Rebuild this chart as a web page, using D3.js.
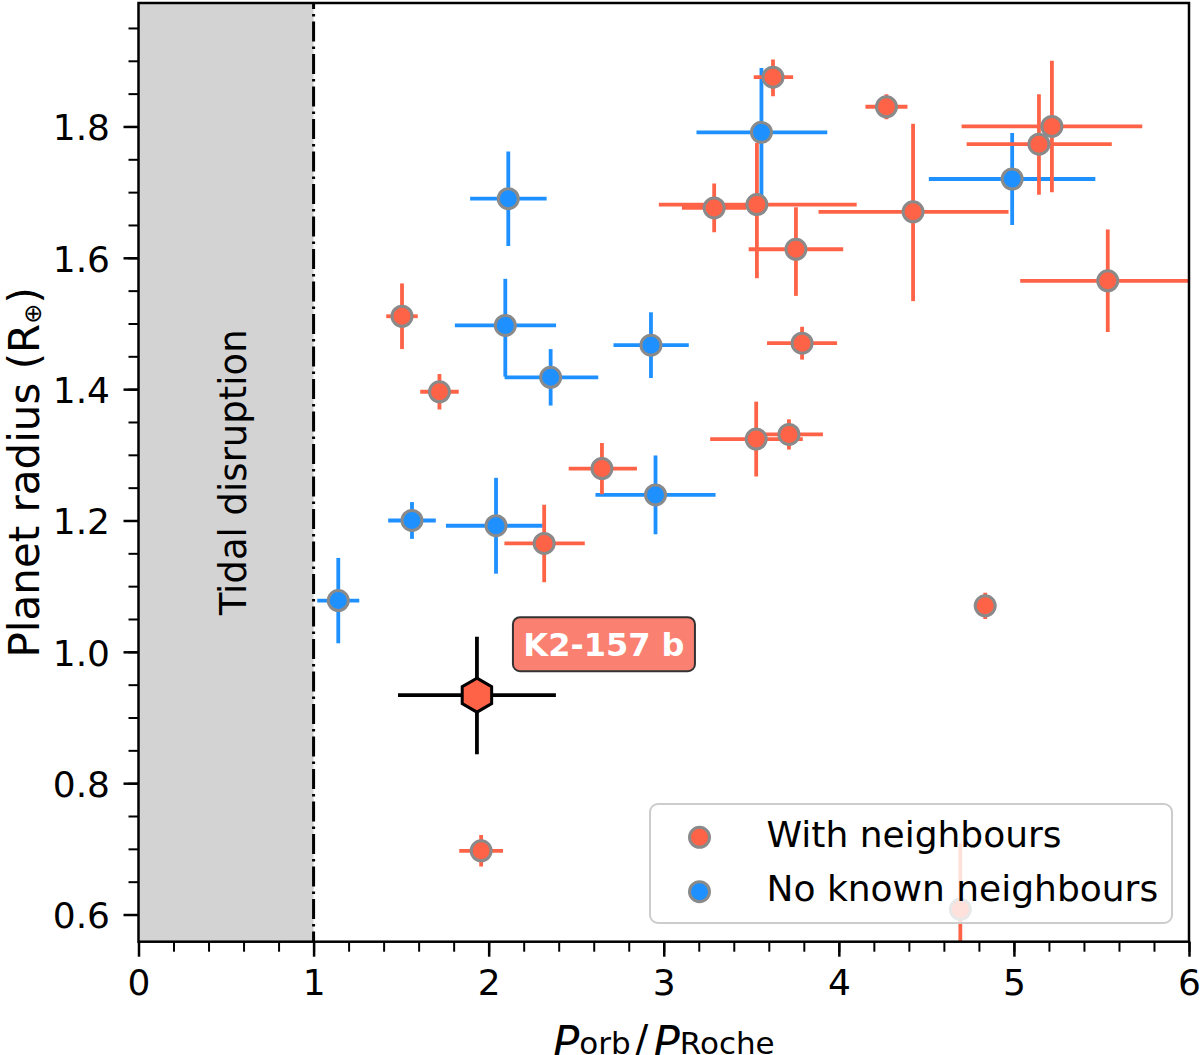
<!DOCTYPE html>
<html>
<head>
<meta charset="utf-8">
<script src="https://cdnjs.cloudflare.com/ajax/libs/d3/7.8.5/d3.min.js"></script>
<style>
body { margin: 0; background: #fff; }
text { font-family: "DejaVu Sans", sans-serif; }
</style>
</head>
<body>
<div id="chart"></div>
<script>
// planets with neighbours (error pairs are [minus, plus])
var withX = [3.624, 3.532, 3.288, 3.755, 1.505, 3.790, 1.719, 4.272, 4.424, 5.217,
             5.143, 5.536, 2.317, 2.647, 3.528, 3.715, 1.957, 4.836, 4.694];
var withY = [1.875, 1.681, 1.676, 1.613, 1.511, 1.470, 1.396, 1.830, 1.670, 1.800,
             1.773, 1.565, 1.165, 1.279, 1.324, 1.331, 0.697, 1.070, 0.608];
var withXerr = [[0.11, 0.115], [0.56, 0.57], [0.184, 0.184], [0.27, 0.27], [0.09, 0.09],
                [0.2, 0.2], [0.11, 0.11], [0.12, 0.12], [0.54, 0.545], [0.516, 0.516],
                [0.413, 0.416], [0.5, 0.5], [0.227, 0.232], [0.19, 0.2], [0.263, 0.266],
                [0.194, 0.194], [0.125, 0.125], [0.02, 0.02], [0.01, 0.01]];
var withYerr = [[0.029, 0.027], [0.112, 0.094], [0.037, 0.037], [0.071, 0.064], [0.05, 0.05],
                [0.025, 0.025], [0.027, 0.027], [0.019, 0.019], [0.136, 0.134], [0.1, 0.1],
                [0.077, 0.076], [0.078, 0.078], [0.059, 0.059], [0.039, 0.039], [0.057, 0.057],
                [0.023, 0.023], [0.024, 0.024], [0.02, 0.02], [0.1, 0.1]];

// planets with no known neighbours
var noneX = [3.558, 2.112, 2.095, 2.354, 2.927, 4.990, 1.141, 1.562, 2.042, 2.953];
var noneY = [1.791, 1.690, 1.497, 1.418, 1.467, 1.720, 1.078, 1.200, 1.192, 1.239];
var noneXerr = [[0.371, 0.376], [0.218, 0.219], [0.288, 0.29], [0.263, 0.272], [0.214, 0.216],
                [0.476, 0.475], [0.12, 0.12], [0.136, 0.136], [0.286, 0.267], [0.343, 0.343]];
var noneYerr = [[0.103, 0.098], [0.072, 0.072], [0.078, 0.071], [0.043, 0.043], [0.05, 0.05],
                [0.07, 0.07], [0.065, 0.065], [0.028, 0.028], [0.073, 0.073], [0.06, 0.06]];

// K2-157 b
var k2X = [1.933];
var k2Y = [0.934];
var k2Xerr = [[0.451, 0.451]];
var k2Yerr = [[0.09, 0.089]];
var k2Name = "K2-157 b";

var xTicks = [0, 1, 2, 3, 4, 5, 6];
var yTicks = [0.6, 0.8, 1.0, 1.2, 1.4, 1.6, 1.8];
var rocheLimit = 1;

var w = 1200;
var h = 1055;
var pl = 138.5, pr = 1189, pt = 3, pb = 941.7;

var red = "#ff6347", blue = "#1e90ff", edge = "#8a8a8a";

var x = d3.scaleLinear().domain([0, 6]).range([pl, pr]);
var y = d3.scaleLinear().domain([0.5586, 1.988]).range([pb, pt]);

var svg = d3.select("#chart")
            .append("svg")
            .attr("width", w)
            .attr("height", h);

svg.append("defs").append("clipPath")
   .attr("id", "plotclip")
   .append("rect")
   .attr("x", pl).attr("y", pt)
   .attr("width", pr - pl).attr("height", pb - pt);

// tidal disruption zone
svg.append("rect")
   .attr("x", x(0))
   .attr("y", pt)
   .attr("width", x(rocheLimit) - x(0))
   .attr("height", pb - pt)
   .attr("fill", "#d3d3d3");

svg.append("line")
   .attr("x1", x(rocheLimit)).attr("x2", x(rocheLimit))
   .attr("y1", pt).attr("y2", pb)
   .attr("stroke", "black")
   .attr("stroke-width", 3)
   .attr("stroke-dasharray", "20,5,2.5,5")
   .attr("stroke-dashoffset", 14);

svg.append("text")
   .attr("transform", "translate(246," + (pt + pb) / 2 + ") rotate(-90)")
   .attr("text-anchor", "middle")
   .attr("font-size", "37px")
   .text("Tidal disruption");

var plot = svg.append("g").attr("clip-path", "url(#plotclip)");

function series(xs, ys, xerr, yerr) {
	return xs.map(function(d, i) {
		return {x: d, y: ys[i], xe: xerr[i], ye: yerr[i]};
	});
}

function drawErrors(data, color) {
	var g = plot.append("g")
	            .attr("stroke", color)
	            .attr("stroke-width", 3.8);
	g.selectAll("line.h")
	 .data(data)
	 .enter()
	 .append("line")
	 .attr("x1", function(d) { return x(d.x - d.xe[0]); })
	 .attr("x2", function(d) { return x(d.x + d.xe[1]); })
	 .attr("y1", function(d) { return y(d.y); })
	 .attr("y2", function(d) { return y(d.y); });
	g.selectAll("line.v")
	 .data(data)
	 .enter()
	 .append("line")
	 .attr("x1", function(d) { return x(d.x); })
	 .attr("x2", function(d) { return x(d.x); })
	 .attr("y1", function(d) { return y(d.y - d.ye[0]); })
	 .attr("y2", function(d) { return y(d.y + d.ye[1]); });
}

function drawCircles(data, color) {
	plot.append("g")
	    .selectAll("circle")
	    .data(data)
	    .enter()
	    .append("circle")
	    .attr("cx", function(d) { return x(d.x); })
	    .attr("cy", function(d) { return y(d.y); })
	    .attr("r", 10)
	    .attr("fill", color)
	    .attr("stroke", edge)
	    .attr("stroke-width", 3);
}

var noneData = series(noneX, noneY, noneXerr, noneYerr);
var withData = series(withX, withY, withXerr, withYerr);
var k2Data = series(k2X, k2Y, k2Xerr, k2Yerr);

drawErrors(noneData, blue);
drawCircles(noneData, blue);
drawErrors(withData, red);
drawCircles(withData, red);
drawErrors(k2Data, "black");

function hexagon(r) {
	var pts = d3.range(6).map(function(i) {
		var a = -Math.PI / 2 + i * Math.PI / 3;
		return [r * Math.cos(a), r * Math.sin(a)];
	});
	return "M" + pts.join("L") + "Z";
}

plot.append("g")
    .selectAll("path")
    .data(k2Data)
    .enter()
    .append("path")
    .attr("d", hexagon(17))
    .attr("transform", function(d) { return "translate(" + x(d.x) + "," + y(d.y) + ")"; })
    .attr("fill", red)
    .attr("stroke", "black")
    .attr("stroke-width", 3)
    .attr("stroke-linejoin", "miter");

// annotation box
var lx = x(k2X[0]) + 127, ly = y(k2Y[0]) - 51;
svg.append("rect")
   .attr("x", lx - 91).attr("y", ly - 27)
   .attr("width", 182).attr("height", 54)
   .attr("rx", 7)
   .attr("fill", "#fa8072")
   .attr("stroke", "#333")
   .attr("stroke-width", 2);
svg.append("text")
   .attr("x", lx).attr("y", ly + 11.5)
   .attr("text-anchor", "middle")
   .attr("font-size", "32px")
   .attr("font-weight", "bold")
   .attr("fill", "white")
   .text(k2Name);

// legend
var legend = svg.append("g");
legend.append("rect")
      .attr("x", 650).attr("y", 804)
      .attr("width", 522).attr("height", 119)
      .attr("rx", 8)
      .attr("fill", "white")
      .attr("fill-opacity", 0.8)
      .attr("stroke", "#cccccc")
      .attr("stroke-width", 2);
var legendItems = [["With neighbours", red], ["No known neighbours", blue]];
legendItems.forEach(function(d, i) {
	legend.append("circle")
	      .attr("cx", 699.5).attr("cy", 837.3 + i * 54.4)
	      .attr("r", 10)
	      .attr("fill", d[1])
	      .attr("stroke", edge)
	      .attr("stroke-width", 3);
	legend.append("text")
	      .attr("x", 766.5).attr("y", 846.7 + i * 54)
	      .attr("font-size", "36px")
	      .text(d[0]);
});

// axes
var yAxis = d3.axisLeft(y).tickValues(yTicks).tickSize(15).tickPadding(13.5)
              .tickFormat(d3.format(".1f"));
var yMinor = d3.axisLeft(y).tickValues(d3.range(0.6, 1.96, 0.05)).tickSize(10).tickFormat("");
var xAxis = d3.axisBottom(x).tickValues(xTicks).tickSize(15).tickPadding(12.5)
              .tickFormat(d3.format("d"));
var xMinor = d3.axisBottom(x).tickValues(d3.range(0, 6.01, 0.2)).tickSize(10).tickFormat("");

function styleAxis(g, width) {
	g.select(".domain").remove();
	g.selectAll(".tick line").attr("stroke", "black").attr("stroke-width", width);
	g.selectAll(".tick text").attr("font-size", "36px").attr("fill", "black")
	 .style("font-family", "DejaVu Sans");
}

svg.append("g").attr("transform", "translate(" + pl + ",0)").call(yMinor).call(styleAxis, 2);
svg.append("g").attr("transform", "translate(" + pl + ",0)").call(yAxis).call(styleAxis, 2.5)
   .selectAll(".tick text").attr("dy", "0.37em");
svg.append("g").attr("transform", "translate(0," + pb + ")").call(xMinor).call(styleAxis, 2);
svg.append("g").attr("transform", "translate(0," + pb + ")").call(xAxis).call(styleAxis, 2.5);

// frame
svg.append("rect")
   .attr("x", pl).attr("y", pt)
   .attr("width", pr - pl).attr("height", pb - pt)
   .attr("fill", "none")
   .attr("stroke", "black")
   .attr("stroke-width", 2.5);

// axis labels
var yl = svg.append("text")
            .attr("transform", "translate(39," + (pt + pb) / 2 + ") rotate(-90)")
            .attr("text-anchor", "middle")
            .attr("font-size", "42px");
yl.append("tspan").text("Planet radius (R");
yl.append("tspan").attr("font-size", "24px").attr("dy", 2).text("\u2295");
yl.append("tspan").attr("dy", -2).text(")");

var xl = svg.append("text")
            .attr("x", (pl + pr) / 2)
            .attr("y", 1054)
            .attr("text-anchor", "middle");
xl.append("tspan").attr("font-size", "44px").attr("font-style", "italic").attr("dy", 4).text("P");
xl.append("tspan").attr("font-size", "31px").attr("dy", -4).text("orb");
xl.append("tspan").attr("font-size", "40px").attr("dx", 4).text("/");
xl.append("tspan").attr("font-size", "44px").attr("font-style", "italic").attr("dx", 5).attr("dy", 4).text("P");
xl.append("tspan").attr("font-size", "31px").attr("dy", -4).text("Roche");
</script>
</body>
</html>
